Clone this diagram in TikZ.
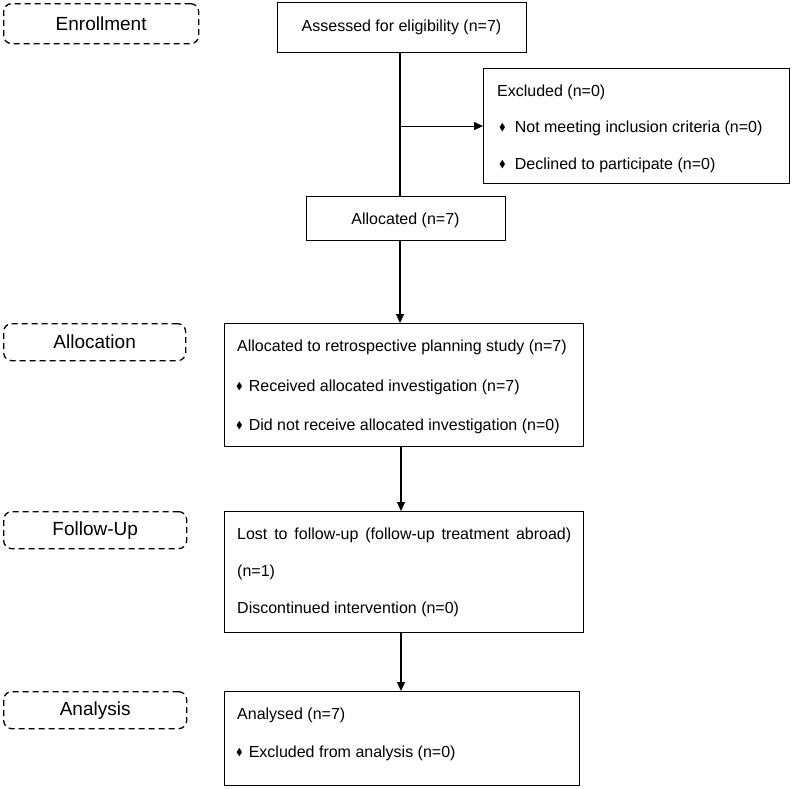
\documentclass[tikz,border=0pt]{standalone}
\usepackage{amssymb}
\usepackage{fontspec}
\setmainfont{Liberation Sans}
\usetikzlibrary{arrows.meta}
\newcommand\dmd{\raisebox{1.2pt}{\scalebox{0.62}{$\blacklozenge$}}}
\begin{document}
\begin{tikzpicture}[x=1pt,y=-1pt,
  box/.style={draw=black,line width=1.1pt,inner sep=0pt,anchor=north west},
  stage/.style={draw=black,line width=1.3pt,dash pattern=on 6pt off 4pt,rounded corners=8pt,inner sep=0pt,anchor=north west,font=\fontsize{19}{23}\selectfont},
  txt/.style={anchor=base west,inner sep=0pt,font=\fontsize{16}{19}\selectfont},
  ctxt/.style={anchor=base,inner sep=0pt,font=\fontsize{16}{19}\selectfont},
  conn/.style={draw=black,line width=1.1pt},
  arr/.style={conn,-{Triangle[length=9pt,width=8pt]}}]
\useasboundingbox (0,0) rectangle (800,788);
% stage labels
\node[stage,minimum width=195pt,minimum height=40pt] (enr) at (3,3) {Enrollment};
\node[stage,minimum width=182pt,minimum height=37pt] (alc) at (3,323) {Allocation};
\node[stage,minimum width=183pt,minimum height=37pt] (fol) at (3,511) {Follow-Up};
\node[stage,minimum width=183pt,minimum height=37pt] (ana) at (3,691) {Analysis};
% boxes
\node[box,minimum width=249pt,minimum height=50pt] (assess) at (277,2) {};
\node[ctxt] (tassess) at (401.5,31) {Assessed for eligibility (n=7)};
\node[box,minimum width=306pt,minimum height=115pt] (excl) at (483,68) {};
\node[txt] (texcl) at (497,96) {Excluded (n=0)};
\node[txt] (texcl1) at (499,132) {\dmd\hspace{9pt}Not meeting inclusion criteria (n=0)};
\node[txt] (texcl2) at (499,169) {\dmd\hspace{9pt}Declined to participate (n=0)};
\node[box,minimum width=199pt,minimum height=44pt] (alloc) at (306,196) {};
\node[ctxt] (talloc) at (405.5,224) {Allocated (n=7)};
\node[box,minimum width=359pt,minimum height=123pt] (allocbox) at (224,323) {};
\node[txt] (ta1) at (237,351) {Allocated to retrospective planning study (n=7)};
\node[txt] (ta2) at (236,391) {\dmd\hspace{6pt}Received allocated investigation (n=7)};
\node[txt] (ta3) at (236,430) {\dmd\hspace{6pt}Did not receive allocated investigation (n=0)};
\node[box,minimum width=359pt,minimum height=121pt] (fubox) at (224,511) {};
\node[txt] (tf1) at (237,539) {\makebox[334pt][s]{Lost to follow-up (follow-up treatment abroad)}};
\node[txt] (tf2) at (237,576) {(n=1)};
\node[txt] (tf3) at (237,613) {Discontinued intervention (n=0)};
\node[box,minimum width=355pt,minimum height=94pt] (anbox) at (224,691) {};
\node[txt] (tn1) at (237,719) {Analysed (n=7)};
\node[txt] (tn2) at (236,757) {\dmd\hspace{6pt}Excluded from analysis (n=0)};
% connectors
\coordinate (top) at (400,52);
\draw[conn] (top) -- (top |- alloc.north);
\draw[arr] (top |- excl.west) -- (excl.west);
\draw[arr] (top |- alloc.south) -- (top |- allocbox.north);
\draw[arr] ([xshift=1pt]top |- allocbox.south) -- ([xshift=1pt]top |- fubox.north);
\draw[arr] ([xshift=1pt]top |- fubox.south) -- ([xshift=1pt]top |- anbox.north);
\end{tikzpicture}
\end{document}
